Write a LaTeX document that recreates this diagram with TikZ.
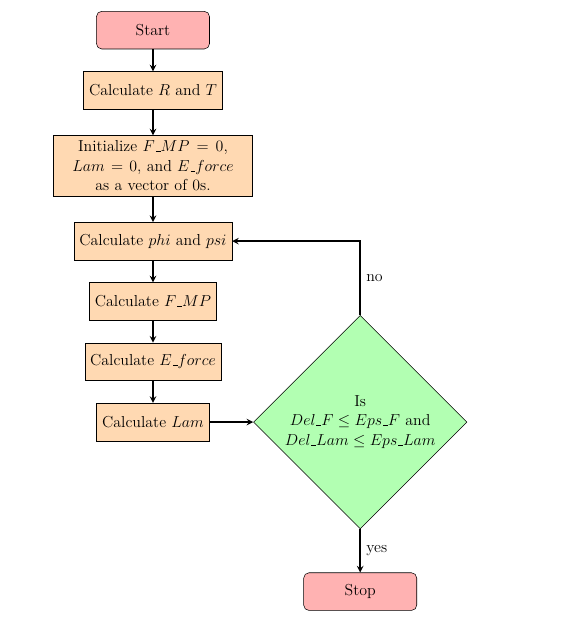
\documentclass[12pt,tikz,border=0pt]{standalone}
\usepackage{tikz}
\usetikzlibrary{shapes.geometric}

% short underscore, as in the printed names
\newcommand{\usc}{\kern.06em\vbox{\hrule width.3em}}

\begin{document}
\begin{tikzpicture}[auto,
    startstop/.style ={rectangle, rounded corners, minimum width=3cm, minimum height=1cm, align=center, draw=black, fill=red!30},
    process/.style ={rectangle, minimum width=3cm, minimum height=1cm, align=center, draw=black, fill=orange!30},
    decision/.style ={diamond, aspect=1, inner sep=2pt, align=center, draw=black, fill=green!30},
    arrow/.style ={very thick, ->, >=stealth}]
   \useasboundingbox (-4.06,0.8) rectangle (11.43,-15.76);
   \node[startstop] (A)  at (0,0)  {Start};
   \node[process] (B)  at (0,-1.6)  {Calculate $R$ and $T$};
   \node[process, text width=5cm] (C)  at (0,-3.6)  {Initialize $F\usc MP = 0$,\\ $Lam = 0$, and $E\usc force$\\ as a vector of 0s.};
   \node[process] (D)  at (0,-5.6)  {Calculate $phi$ and $psi$};
   \node[process] (E)  at (0,-7.2)  {Calculate $F\usc MP$};
   \node[process] (F)  at (0,-8.8)  {Calculate $E\usc force$};
   \node[process] (G)  at (0,-10.4)  {Calculate $Lam$};
   \node[decision] (H)  at (5.5,-10.4)  {Is\\ $Del\usc F \leq Eps\usc F$ and\\ $Del\usc Lam \leq Eps\usc Lam$};
   \node[startstop] (I)  at (5.5,-14.9)  {Stop};

   \draw[arrow] (A) to (B);
   \draw[arrow] (B) to (C);
   \draw[arrow] (C) to (D);
   \draw[arrow] (D) to (E);
   \draw[arrow] (E) to (F);
   \draw[arrow] (F) to (G);
   \draw[arrow] (G) to (H);
   \draw[arrow] (H) |- node[pos=0.25,right] {no} (D);
   \draw[arrow] (H) to node[right] {yes} (I);
 \end{tikzpicture}
\end{document}
